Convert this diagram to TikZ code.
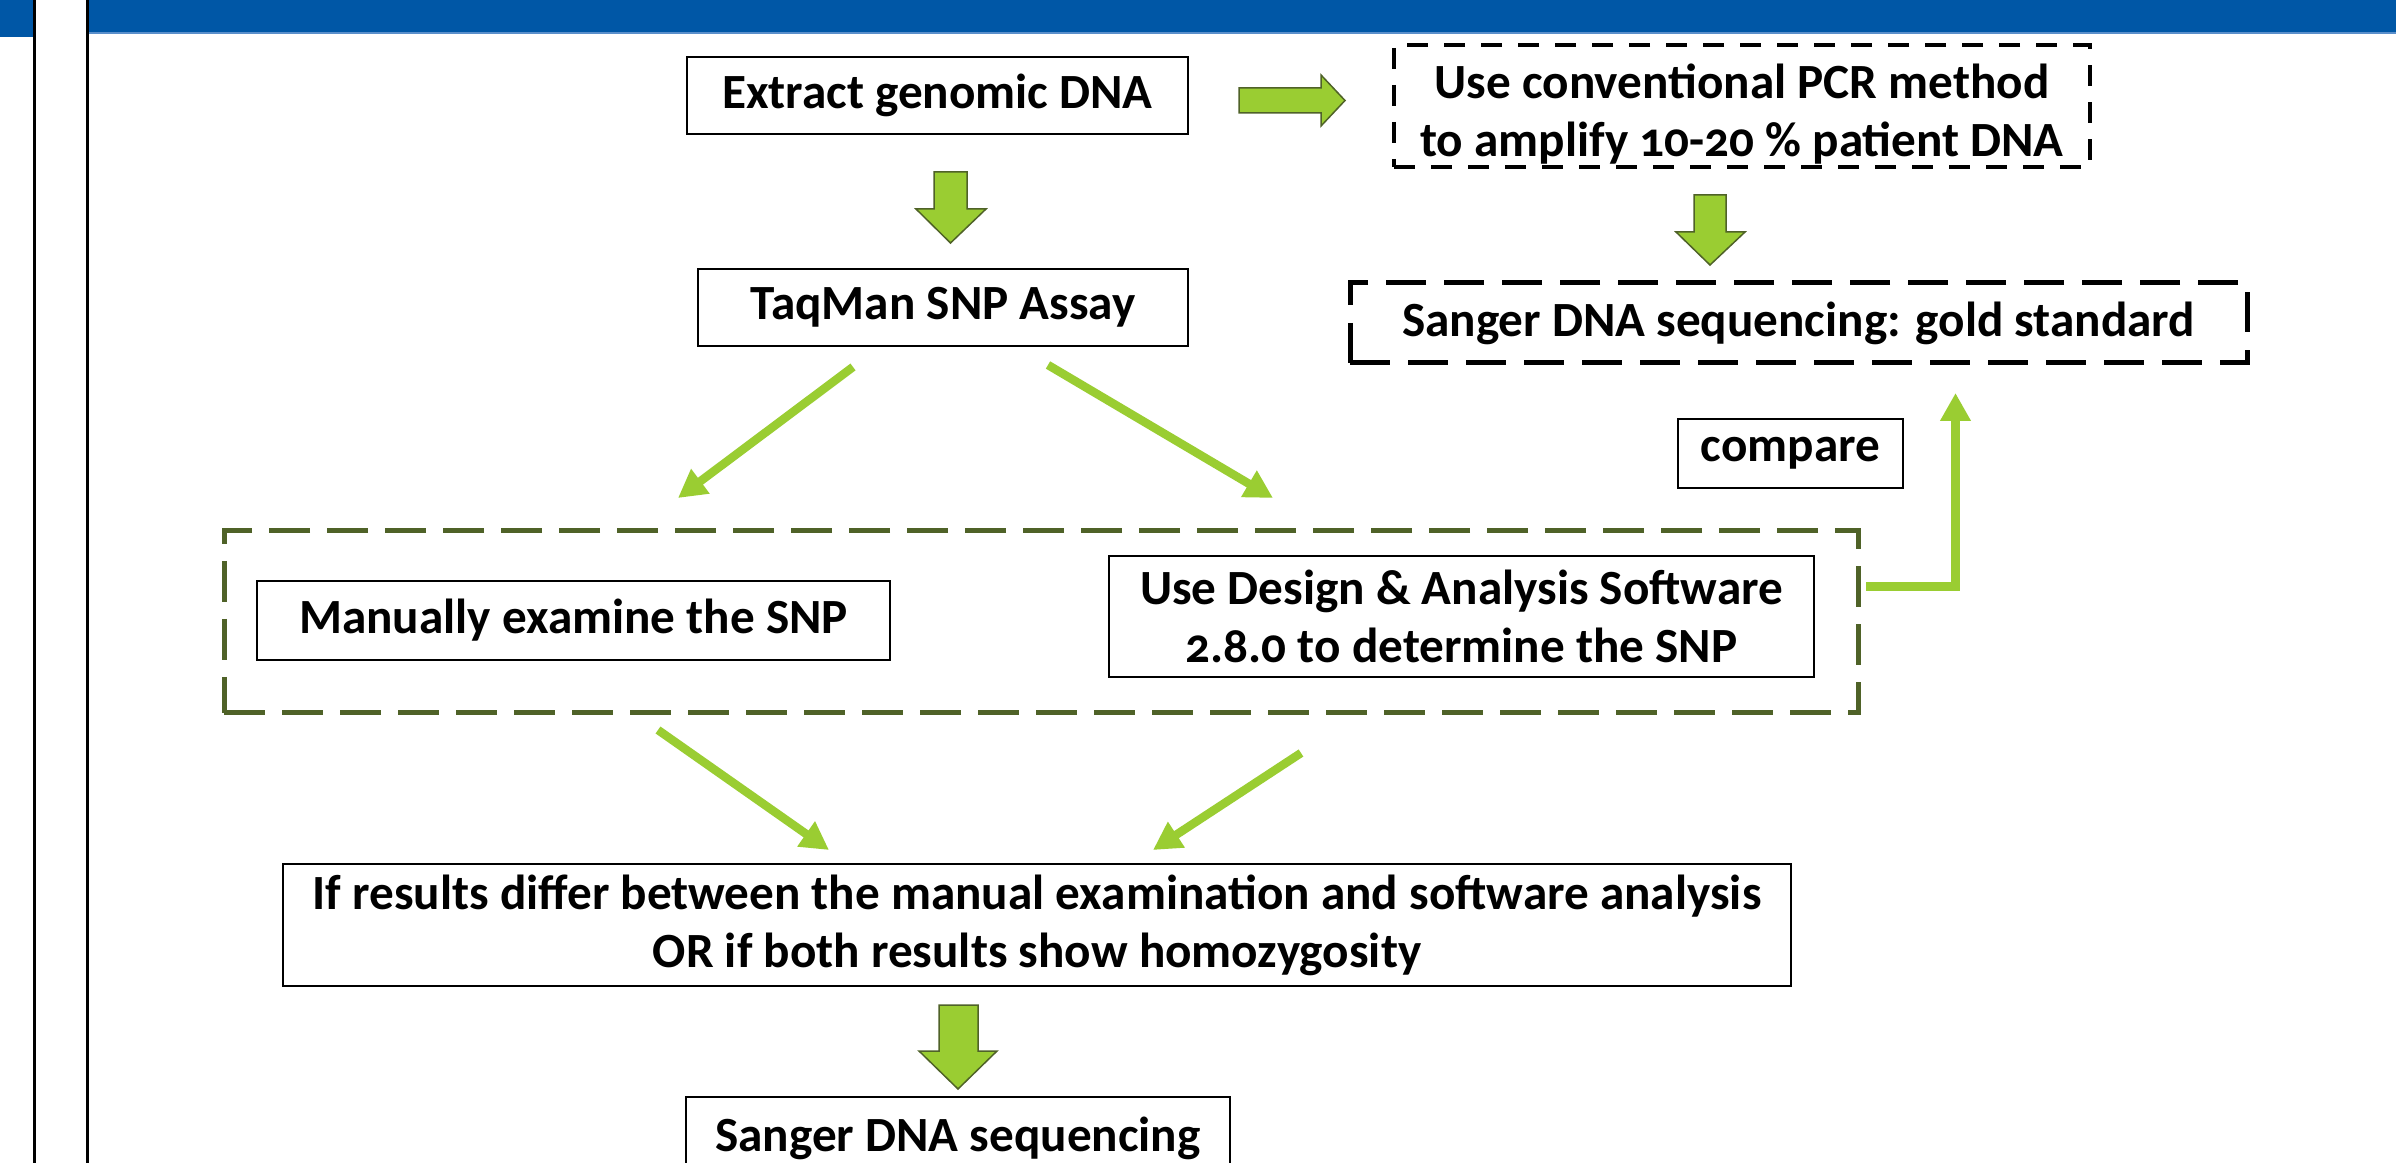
\documentclass[tikz,border=0pt]{standalone}
\usepackage{fontspec}
\setmainfont{Carlito}[Numbers=OldStyle]
\usetikzlibrary{arrows.meta}
\definecolor{bannerblue}{HTML}{0057A6}
\definecolor{bannerline}{HTML}{5A8FCB}
\definecolor{olivedark}{HTML}{4F6228}
\definecolor{lgreen}{HTML}{9ACD32}
\begin{document}
\begin{tikzpicture}[x=0.1mm,y=-0.1mm,
  txt/.style={font=\fontsize{14}{16.5}\selectfont\bfseries, align=center, inner sep=0pt},
  solidbox/.style={txt, draw=black, line width=0.25mm, fill=white},
  pcrdash/.style={draw=black, line width=0.4mm, dash pattern=on 2.1mm off 1.6mm, inner sep=0pt},
  golddash/.style={txt, draw=black, line width=0.5mm, dash pattern=on 4mm off 1.8mm},
  olivedash/.style={draw=olivedark, line width=0.5mm, dash pattern=on 4.1mm off 1.7mm, inner sep=0pt},
  blockarrow/.style={fill=lgreen, draw=olivedark, line width=0.15mm, line join=miter},
  garrow/.style={draw=lgreen, line width=0.85mm, line join=miter, -{Triangle[length=2.8mm,width=2.9mm]}},
  vline/.style={draw=black, line width=0.3mm}
]
\clip (0,0) rectangle (2396,1163);
\fill[white] (0,0) rectangle (2396,1163);
% banner
\fill[bannerblue] (0,0) rectangle (34,37);
\fill[bannerblue] (87,0) rectangle (2396,33);
\draw[bannerline, line width=0.2mm] (87,33) -- (2396,33);
\draw[vline] (34.5,0) -- (34.5,1163);
\draw[vline] (87.5,0) -- (87.5,1163);

% boxes
\node[solidbox, minimum width=50.1mm, minimum height=7.7mm] (extract) at (937.5,95.5) {Extract genomic DNA};
\node[pcrdash, minimum width=69.6mm, minimum height=12.2mm] (pcr) at (1742,106) {};
\node[txt] (pcrtext) at (1742,114) {Use conventional PCR method\\to amplify 10-20 \% patient DNA};
\node[solidbox, minimum width=49mm, minimum height=7.7mm] (taqman) at (943,307.5) {TaqMan SNP Assay};
\node[golddash, minimum width=89.7mm, minimum height=8mm] (gold) at (1798.5,323) {Sanger DNA sequencing: gold standard};
\node[solidbox, minimum width=22.5mm, minimum height=6.9mm] (compare) at (1790.5,453.5) {compare};
\node[olivedash, minimum width=163.4mm, minimum height=18.2mm] (group) at (1041,622) {};
\node[solidbox, minimum width=63.3mm, minimum height=7.9mm] (manual) at (573.5,620.5) {Manually examine the SNP};
\node[solidbox, minimum width=70.5mm, minimum height=12.1mm] (design) at (1461.5,616.5) {Use Design \& Analysis Software\\2.8.0 to determine the SNP};
\node[solidbox, minimum width=150.8mm, minimum height=12.2mm] (differ) at (1037,925) {If results differ between the manual examination and software analysis\\OR if both results show homozygosity};
\node[solidbox, minimum width=54.4mm, minimum height=8.2mm] (sanger) at (958,1138) {Sanger DNA sequencing};

% block arrows
\draw[blockarrow] (1239,88) -- (1321,88) -- (1321,75) -- (1345,100.5) -- (1321,126) -- (1321,113) -- (1239,113) -- cycle;
\draw[blockarrow] (934,172) -- (967,172) -- (967,209) -- (986,209) -- (950.5,243) -- (916,209) -- (934,209) -- cycle;
\draw[blockarrow] (1694,195) -- (1726,195) -- (1726,232) -- (1745,232) -- (1710,265) -- (1676,232) -- (1694,232) -- cycle;
\draw[blockarrow] (939,1005) -- (978,1005) -- (978,1051) -- (997,1051) -- (958,1089) -- (919,1051) -- (939,1051) -- cycle;

% line arrows
\coordinate (t1) at (853,367);
\coordinate (t1e) at (678,498);
\coordinate (t2) at (1048,365);
\coordinate (t2e) at (1273,498);
\coordinate (b1) at (658,730);
\coordinate (b1e) at (829,850);
\coordinate (b2) at (1301,753);
\coordinate (b2e) at (1153,850);
\coordinate (lstart) at (1866,586.5);
\coordinate (ltip) at (1955.5,393);
\draw[garrow] (t1) -- (t1e);
\draw[garrow] (t2) -- (t2e);
\draw[garrow] (b1) -- (b1e);
\draw[garrow] (b2) -- (b2e);
\draw[garrow] (lstart) -| (ltip);
\end{tikzpicture}
\end{document}
